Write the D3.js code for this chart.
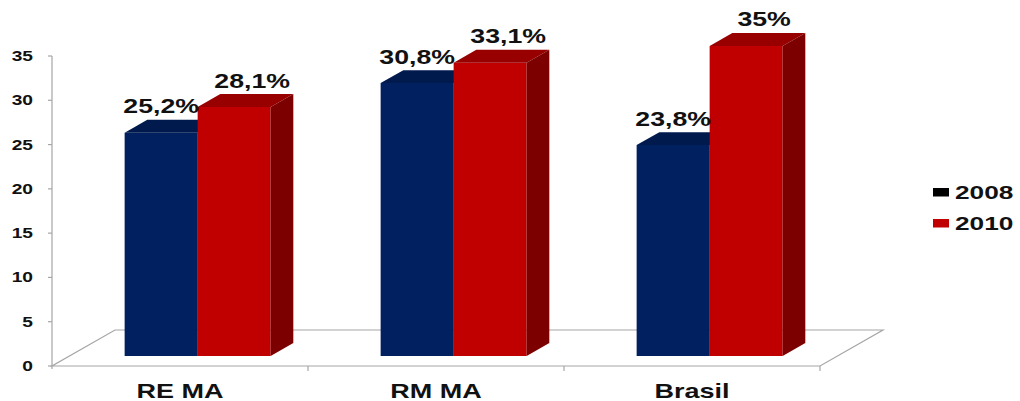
<!DOCTYPE html>
<html>
<head>
<meta charset="utf-8">
<script src="https://cdn.jsdelivr.net/npm/d3@7"></script>
<style>
  html, body { margin: 0; padding: 0; background: #ffffff; }
  svg { display: block; }
  text { font-family: "Liberation Sans", Arial, sans-serif; font-weight: bold; fill: #111111; }
</style>
</head>
<body>
<svg id="chart" width="1020" height="401"></svg>
<script>
// Data
const categories = ["RE MA", "RM MA", "Brasil"];
const seriesNames = ["2008", "2010"];
const values2008 = [25.2, 30.8, 23.8];
const values2010 = [28.1, 33.1, 35];
const yTicks = [0, 5, 10, 15, 20, 25, 30, 35];

const seriesValues = [values2008, values2010];
const frontColors = ["#002060", "#c00000"];
const topColors   = ["#001a4e", "#980000"];
const sideColors  = ["#00153f", "#7c0000"];
const legendColors = ["#000000", "#c00000"];

const svg = d3.select("#chart");

// Plot frame (front plane of the 3D floor)
const plotLeft = 52, plotRight = 820, plotBottom = 366, plotTop = 56;
// Oblique depth projection: full floor depth
const depthDX = 63, depthDY = 36;
// Bars occupy a slice of the floor depth
const barFrontT = 0.28, barBackT = 0.64;
const stretch = 1.37; // horizontal text stretch

const y = d3.scaleLinear().domain([0, 35]).range([plotBottom, plotTop]);
const x = d3.scaleBand().domain(categories).range([plotLeft, plotRight]).paddingInner(0).paddingOuter(0);
const barW = 73;
const xs = d3.scaleBand().domain(seriesNames).range([0, barW * 2]);

const grey = "#a6a6a6";

// Floor outline
const floorPts = [
  [plotLeft, plotBottom], [plotRight, plotBottom],
  [plotRight + depthDX, plotBottom - depthDY], [plotLeft + depthDX, plotBottom - depthDY]
];
svg.append("path")
  .attr("d", "M" + floorPts.map(p => p.join(",")).join("L") + "Z")
  .attr("fill", "none").attr("stroke", grey).attr("stroke-width", 1.2);

// Y axis
const yAxisG = svg.append("g").attr("transform", `translate(${plotLeft},0)`);
yAxisG.append("line").attr("x1", 0).attr("x2", 0).attr("y1", plotTop).attr("y2", plotBottom + 3)
  .attr("stroke", grey).attr("stroke-width", 1.2);
yAxisG.selectAll("line.tick").data(yTicks).join("line")
  .attr("class", "tick")
  .attr("x1", -4).attr("x2", 0)
  .attr("y1", d => y(d)).attr("y2", d => y(d))
  .attr("stroke", grey).attr("stroke-width", 1.2);
svg.append("g").selectAll("text").data(yTicks).join("text")
  .attr("transform", d => `translate(33,${y(d)}) scale(${stretch},1)`)
  .attr("text-anchor", "end").attr("dy", "0.36em")
  .attr("font-size", 14)
  .text(d => d);

// X axis ticks between categories
const xTickPos = categories.map(c => x(c) + x.bandwidth());
svg.append("g").selectAll("line").data(xTickPos).join("line")
  .attr("x1", d => d).attr("x2", d => d)
  .attr("y1", plotBottom).attr("y2", plotBottom + 5)
  .attr("stroke", grey).attr("stroke-width", 1.2);

// Category labels
svg.append("g").selectAll("text").data(categories).join("text")
  .attr("transform", d => `translate(${x(d) + x.bandwidth() / 2},398) scale(${stretch - 0.02},1)`)
  .attr("text-anchor", "middle")
  .attr("font-size", 20)
  .text(d => d);

// 3D bars
const fdx = depthDX * barFrontT, fdy = depthDY * barFrontT;
const bdx = depthDX * (barBackT - barFrontT), bdy = depthDY * (barBackT - barFrontT);

const bars = [];
categories.forEach((c, ci) => {
  seriesNames.forEach((s, si) => {
    const v = seriesValues[si][ci];
    const x0 = x(c) + x.bandwidth() / 2 - barW + xs(s) + fdx;
    const x1 = x0 + xs.bandwidth();
    const yb = y(0) - fdy;
    const yt = y(v) - fdy;
    bars.push({ c, s, si, v, x0, x1, yb, yt });
  });
});

const poly = pts => "M" + pts.map(p => p.join(",")).join("L") + "Z";
const barG = svg.append("g").selectAll("g").data(bars).join("g");
barG.append("path")
  .attr("d", d => poly([[d.x0, d.yb], [d.x1, d.yb], [d.x1, d.yt], [d.x0, d.yt]]))
  .attr("fill", d => frontColors[d.si]);
barG.append("path")
  .attr("d", d => poly([[d.x0, d.yt], [d.x1, d.yt], [d.x1 + bdx, d.yt - bdy], [d.x0 + bdx, d.yt - bdy]]))
  .attr("fill", d => topColors[d.si]);
barG.append("path")
  .attr("d", d => poly([[d.x1, d.yb], [d.x1 + bdx, d.yb - bdy], [d.x1 + bdx, d.yt - bdy], [d.x1, d.yt]]))
  .attr("fill", d => sideColors[d.si]);

// Value labels
const fmt = v => String(v).replace(".", ",") + "%";
svg.append("g").selectAll("text").data(bars).join("text")
  .attr("transform", d => {
    const cx = (d.x0 + d.x1) / 2 + (d.si === 1 ? 18 : 0);
    return `translate(${cx},${d.yt - 19.5}) scale(${stretch},1)`;
  })
  .attr("text-anchor", "middle")
  .attr("font-size", 19.5)
  .text(d => fmt(d.v));

// Legend
const legend = svg.append("g").selectAll("g").data(seriesNames).join("g")
  .attr("transform", (d, i) => `translate(933,${188 + i * 31})`);
legend.append("rect")
  .attr("x", 0).attr("y", 0).attr("width", 16).attr("height", 8.5)
  .attr("fill", (d, i) => legendColors[i]);
legend.append("text")
  .attr("transform", `translate(22,10.5) scale(1.42,1)`)
  .attr("font-size", 18.5)
  .text(d => d);
</script>
</body>
</html>
